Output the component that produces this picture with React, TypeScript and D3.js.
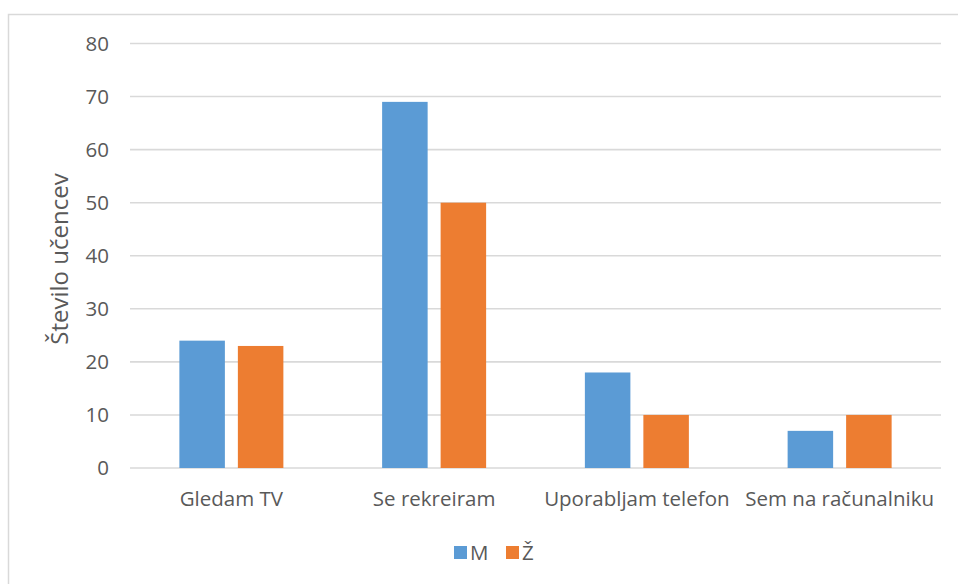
import React from "react";
import * as d3 from "d3";

const categories = ["Gledam TV", "Se rekreiram", "Uporabljam telefon", "Sem na računalniku"];
const seriesNames = ["M", "Ž"];
const valuesM = [24, 69, 18, 7];
const valuesZ = [23, 50, 10, 10];
const yTicks = [0, 10, 20, 30, 40, 50, 60, 70, 80];
const yTitle = "Število učencev";

const colors = ["#5B9BD5", "#ED7D31"];
const textColor = "#595959";
const gridColor = "#D9D9D9";
const font = "'Open Sans', 'Noto Sans', sans-serif";

export default function App() {
  const W = 958;
  const H = 584;
  const plotLeft = 130;
  const plotRight = 941;
  const plotTop = 43.5;
  const plotBottom = 468;

  const y = d3.scaleLinear().domain([0, 80]).range([plotBottom, plotTop]);
  const x0 = d3.scaleBand<string>().domain(categories).range([plotLeft, plotRight]).padding(0);
  const groupW = 104;
  const x1 = d3.scaleBand<string>().domain(seriesNames).range([0, groupW]).paddingInner(0.222).paddingOuter(0);
  const groupOffset = (x0.bandwidth() - groupW) / 2;
  const series = [valuesM, valuesZ];

  return (
    <svg width={W} height={H} style={{ position: "absolute", left: 0, top: 0, background: "#fff" }}>
      <rect x={0} y={0} width={W} height={H} fill="#fff" />
      <rect x={8.5} y={14.5} width={1000} height={700} fill="none" stroke={gridColor} strokeWidth={1.5} />
      {yTicks.map((t) => (
        <g key={t}>
          <line x1={plotLeft} x2={plotRight} y1={y(t)} y2={y(t)} stroke={gridColor} strokeWidth={1.6} />
          <text x={109} y={y(t)} dy="0.36em" textAnchor="end" fontFamily={font} fontSize={20.5} fill={textColor}>
            {t}
          </text>
        </g>
      ))}
      {categories.map((c, i) => (
        <g key={c}>
          {series.map((vals, s) => (
            <rect
              key={s}
              x={(x0(c) as number) + groupOffset + (x1(seriesNames[s]) as number)}
              y={y(vals[i])}
              width={x1.bandwidth()}
              height={y(0) - y(vals[i])}
              fill={colors[s]}
            />
          ))}
          <text
            x={(x0(c) as number) + x0.bandwidth() / 2}
            y={506}
            textAnchor="middle"
            fontFamily={font}
            fontSize={20.5}
            fill={textColor}
          >
            {c}
          </text>
        </g>
      ))}
      <text
        transform={`translate(68, 259) rotate(-90)`}
        textAnchor="middle"
        fontFamily={font}
        fontSize={24}
        fill={textColor}
      >
        {yTitle}
      </text>
      {seriesNames.map((n, s) => (
        <g key={n} transform={`translate(${454 + s * 52}, 546)`}>
          <rect x={0} y={0} width={13} height={13} fill={colors[s]} />
          <text x={16} y={14} fontFamily={font} fontSize={20.5} fill={textColor}>
            {n}
          </text>
        </g>
      ))}
    </svg>
  );
}
